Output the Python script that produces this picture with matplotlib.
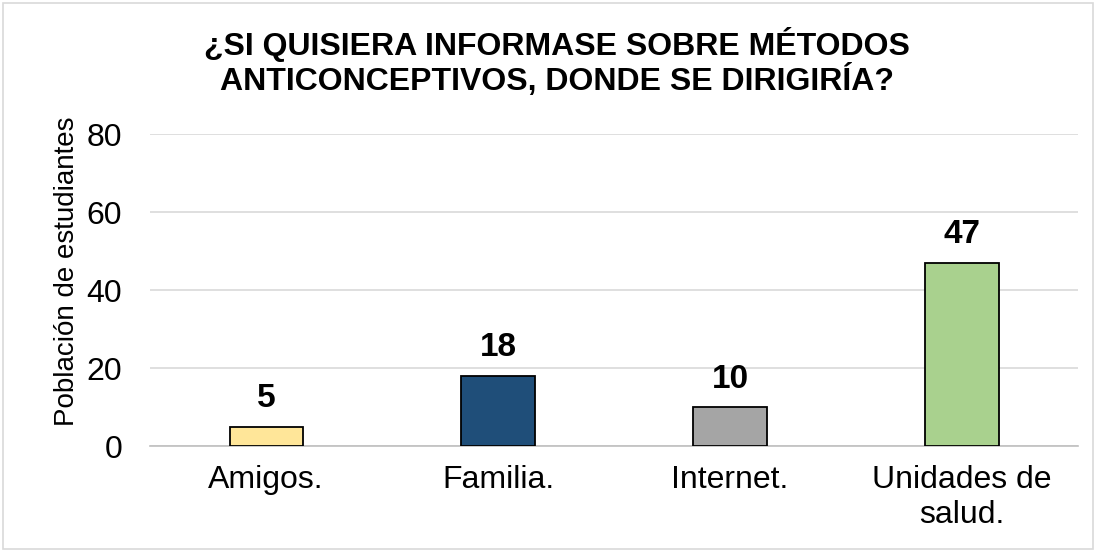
import matplotlib
matplotlib.use("Agg")
import matplotlib.pyplot as plt
from matplotlib.patches import Rectangle

categories = ["Amigos.", "Familia.", "Internet.", "Unidades de\nsalud."]
values = [5, 18, 10, 47]
colors = ["#FFE699", "#1F4E79", "#A5A5A5", "#A9D18E"]
yticks = [0, 20, 40, 60, 80]

plt.rcParams["font.family"] = ["Liberation Sans", "DejaVu Sans"]

fig = plt.figure(figsize=(10.96, 5.52), dpi=100)
ax = fig.add_axes([0.1369, 0.192, 0.8467, 0.565])

x = range(len(categories))
ax.bar(x, values, width=0.315, color=colors, edgecolor="black", linewidth=1.3, zorder=3)
for xi, v in zip(x, values):
    ax.annotate(str(v), (xi, v), xytext=(0, 9), textcoords="offset points",
                ha="center", va="bottom", fontsize=24, fontweight="bold", color="black")

ax.set_xlim(-0.5, len(categories) - 0.5)
ax.set_ylim(0, 80)
ax.set_yticks(yticks)
ax.yaxis.grid(True, color="#D9D9D9", linewidth=1.2, zorder=0)
ax.set_axisbelow(True)
for s in ["top", "right", "left"]:
    ax.spines[s].set_visible(False)
ax.spines["bottom"].set_color("#BFBFBF")
ax.spines["bottom"].set_linewidth(1.2)
ax.set_xticks(list(x))
ax.set_xticklabels(categories, fontsize=23, linespacing=1.2)
ax.tick_params(axis="both", length=0, labelsize=23)
ax.tick_params(axis="x", pad=14)
ax.tick_params(axis="y", pad=20)
ax.set_ylabel("Población de estudiantes", fontsize=20)
ax.yaxis.set_label_coords(-0.075, 0.56)

fig.text(0.508, 0.887, "¿SI QUISIERA INFORMASE SOBRE MÉTODOS\nANTICONCEPTIVOS, DONDE SE DIRIGIRÍA?",
         ha="center", va="center", fontsize=23, fontweight="bold", linespacing=1.08)

fig.patches.append(Rectangle((0.003, 0.005), 0.994, 0.99, transform=fig.transFigure,
                             fill=False, edgecolor="#D9D9D9", linewidth=1.2))

fig.savefig("out.png", dpi=100, facecolor="white")
